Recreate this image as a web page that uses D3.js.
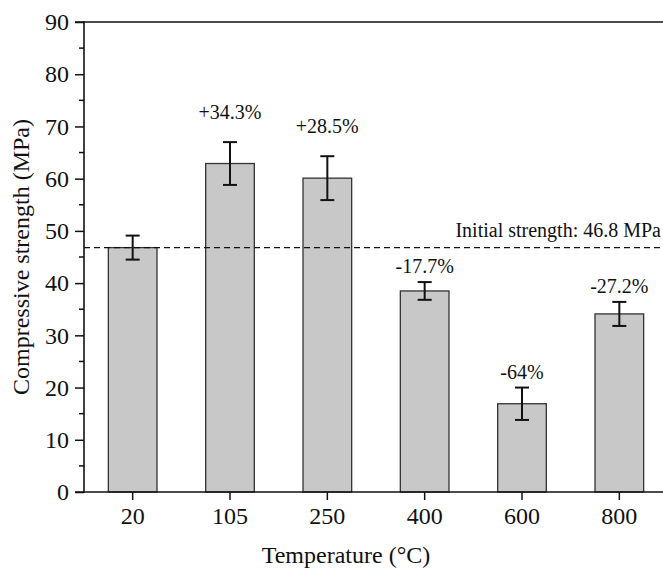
<!DOCTYPE html>
<html>
<head>
<meta charset="utf-8">
<script src="https://cdn.jsdelivr.net/npm/d3@7"></script>
<style>
  html, body { margin: 0; padding: 0; background: #fff; }
  svg { display: block; }
  text { font-family: "Liberation Serif", "Times New Roman", serif; fill: #111; }
</style>
</head>
<body>
<svg id="chart" width="663" height="572"></svg>
<script>
// Temperature groups and mean compressive strength (MPa)
const temperatures = ["20", "105", "250", "400", "600", "800"];
const strength = [46.8, 62.9, 60.1, 38.5, 16.9, 34.1];
const stdDev = [2.3, 4.1, 4.2, 1.7, 3.1, 2.3];
const changeLabels = ["", "+34.3%", "+28.5%", "-17.7%", "-64%", "-27.2%"];
const initialStrength = 46.8;
const yTicks = [0, 10, 20, 30, 40, 50, 60, 70, 80, 90];

const svg = d3.select("#chart");
const margin = { left: 84, top: 22, right: -5, bottom: 80 };
const W = 663, H = 572;
const x0 = margin.left, x1 = W - margin.right;
const yTop = margin.top, yBot = H - margin.bottom;

const x = d3.scaleBand().domain(temperatures).range([x0, x1])
  .paddingInner(0.5).paddingOuter(0.25);
const y = d3.scaleLinear().domain([0, 90]).range([yBot, yTop]);

const data = temperatures.map((t, i) => ({
  t, v: strength[i], e: stdDev[i], label: changeLabels[i]
}));

// bars
svg.append("g").selectAll("rect").data(data).join("rect")
  .attr("x", d => x(d.t))
  .attr("y", d => y(d.v))
  .attr("width", x.bandwidth())
  .attr("height", d => y(0) - y(d.v))
  .attr("fill", "#c8c8c8")
  .attr("stroke", "#333")
  .attr("stroke-width", 1.3);

// reference line for the initial strength
svg.append("line")
  .attr("x1", x0).attr("x2", x1)
  .attr("y1", y(initialStrength)).attr("y2", y(initialStrength))
  .attr("stroke", "#111").attr("stroke-width", 1.3)
  .attr("stroke-dasharray", "6,4");
svg.append("text")
  .attr("x", 661).attr("y", y(initialStrength) - 11)
  .attr("text-anchor", "end")
  .attr("font-size", 20)
  .text("Initial strength: " + initialStrength + " MPa");

// error bars
const eb = svg.append("g").attr("stroke", "#111").attr("stroke-width", 2);
data.forEach(d => {
  const cx = x(d.t) + x.bandwidth() / 2;
  eb.append("line").attr("x1", cx).attr("x2", cx)
    .attr("y1", y(d.v + d.e)).attr("y2", y(d.v - d.e));
  [d.v + d.e, d.v - d.e].forEach(v => {
    eb.append("line").attr("x1", cx - 7).attr("x2", cx + 7)
      .attr("y1", y(v)).attr("y2", y(v));
  });
});

// percentage change labels
svg.append("g").selectAll("text").data(data.filter(d => d.label)).join("text")
  .attr("x", d => x(d.t) + x.bandwidth() / 2)
  .attr("y", d => y(d.v + d.e) - (d.label[0] === "+" ? 23 : 9))
  .attr("text-anchor", "middle")
  .attr("font-size", 20)
  .text(d => d.label);

// y axis with minor ticks
const yAxis = svg.append("g").attr("transform", `translate(${x0},0)`);
yAxis.call(d3.axisLeft(y).tickValues(yTicks).tickSize(9).tickPadding(6))
  .call(g => g.select(".domain").remove());
yAxis.selectAll(".tick line").attr("stroke", "#111").attr("stroke-width", 1.5);
yAxis.selectAll(".tick text").attr("font-size", 24)
  .attr("font-family", "Liberation Serif").attr("fill", "#111");
yAxis.append("g").selectAll("line").data(d3.range(5, 90, 10)).join("line")
  .attr("x1", -5).attr("x2", 0)
  .attr("y1", d => y(d)).attr("y2", d => y(d))
  .attr("stroke", "#111").attr("stroke-width", 1.5);

// x axis
const xAxis = svg.append("g").attr("transform", `translate(0,${yBot})`);
xAxis.call(d3.axisBottom(x).tickSize(8).tickPadding(7))
  .call(g => g.select(".domain").remove());
xAxis.selectAll(".tick line").attr("stroke", "#111").attr("stroke-width", 1.5);
xAxis.selectAll(".tick text").attr("font-size", 24)
  .attr("font-family", "Liberation Serif").attr("fill", "#111");

// frame lines: left, bottom, top
const frame = svg.append("g").attr("stroke", "#111").attr("stroke-width", 1.6);
frame.append("line").attr("x1", x0).attr("x2", x0).attr("y1", yTop - 0.8).attr("y2", yBot + 0.8);
frame.append("line").attr("x1", x0 - 9).attr("x2", x1).attr("y1", yBot).attr("y2", yBot);
frame.append("line").attr("x1", x0 - 9).attr("x2", x1).attr("y1", yTop).attr("y2", yTop);

// axis titles
svg.append("text")
  .attr("x", 346).attr("y", 563)
  .attr("text-anchor", "middle").attr("font-size", 24)
  .text("Temperature (°C)");
svg.append("text")
  .attr("transform", `translate(29,${(yTop + yBot) / 2}) rotate(-90)`)
  .attr("text-anchor", "middle").attr("font-size", 24)
  .text("Compressive strength (MPa)");
</script>
</body>
</html>
